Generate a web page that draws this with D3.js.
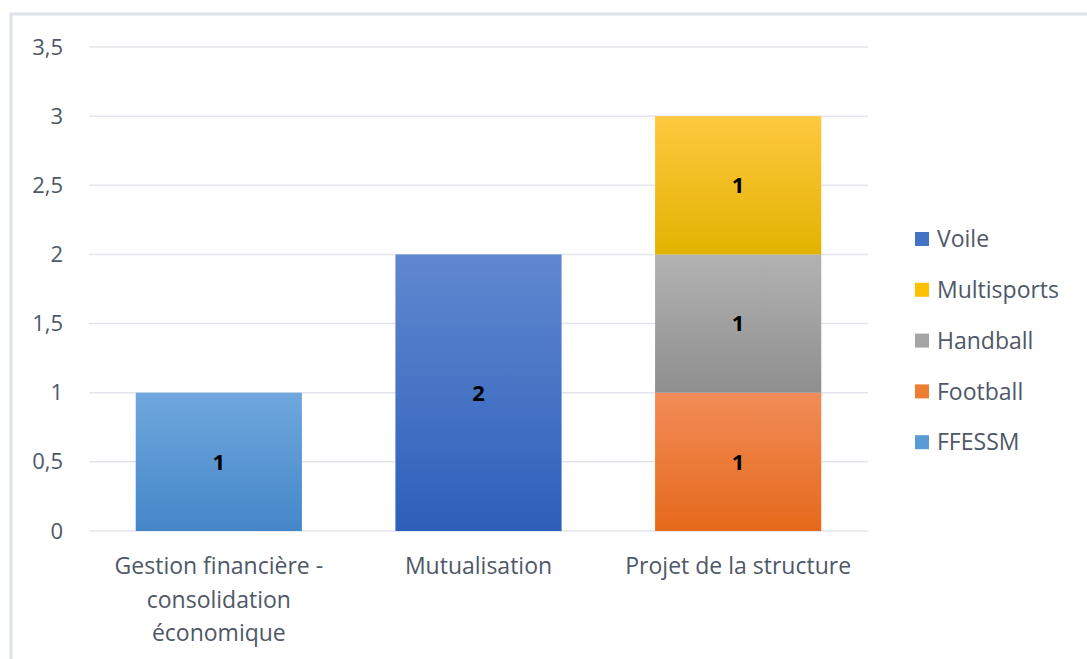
<!DOCTYPE html>
<html lang="fr">
<head>
<meta charset="UTF-8">
<title>Graphique</title>
<style>
  body { margin: 0; background: #fff; }
  svg { display: block; }
  svg text { font-family: "Open Sans", "Noto Sans", sans-serif; }
</style>
<script src="https://cdn.jsdelivr.net/npm/d3@7"></script>
</head>
<body>
<script>
// donnees
var categories = ["Gestion financière - consolidation économique", "Mutualisation", "Projet de la structure"];
var seriesNames = ["FFESSM", "Football", "Handball", "Multisports", "Voile"];
var ffessm = [1, 0, 0];
var football = [0, 0, 1];
var handball = [0, 0, 1];
var multisports = [0, 0, 1];
var voile = [0, 2, 0];
var yTicks = [0, 0.5, 1, 1.5, 2, 2.5, 3, 3.5];

// couleurs (haut / bas du degrade)
var colors = {
  "FFESSM": ["#70a7de", "#4487c8"],
  "Football": ["#f28c58", "#e5691b"],
  "Handball": ["#b2b2b2", "#8f8f8f"],
  "Multisports": ["#ffc840", "#e3b300"],
  "Voile": ["#6088d0", "#2d5fb9"]
};
var legendColors = {
  "FFESSM": "#5b9bd5", "Football": "#ed7d31", "Handball": "#a5a5a5",
  "Multisports": "#ffc000", "Voile": "#4472c4"
};
var textColor = "#4e5868";

var width = 1087, height = 659;
var margin = {top: 47, right: 219, bottom: 128, left: 89};

var table = categories.map(function(c, i) {
  return {cat: c, FFESSM: ffessm[i], Football: football[i], Handball: handball[i],
          Multisports: multisports[i], Voile: voile[i]};
});
var stacked = d3.stack().keys(seriesNames)(table);

var svg = d3.select("body").append("svg")
  .attr("width", width)
  .attr("height", height);

// cadre
svg.append("path")
  .attr("d", "M11," + height + "V14H" + width)
  .attr("fill", "none")
  .attr("stroke", "#dde1e8")
  .attr("stroke-width", 3);

var defs = svg.append("defs");
seriesNames.forEach(function(s) {
  var g = defs.append("linearGradient")
    .attr("id", "grad-" + s)
    .attr("x1", 0).attr("y1", 0).attr("x2", 0).attr("y2", 1);
  g.append("stop").attr("offset", "0%").attr("stop-color", colors[s][0]);
  g.append("stop").attr("offset", "100%").attr("stop-color", colors[s][1]);
});

var x = d3.scaleBand()
  .domain(categories)
  .range([margin.left, width - margin.right])
  .paddingInner(0.36)
  .paddingOuter(0.18);

var y = d3.scaleLinear()
  .domain([0, 3.5])
  .range([height - margin.bottom, margin.top]);

var fmt = function(d) { return String(d).replace(".", ","); };

// grille
svg.append("g")
  .selectAll("line")
  .data(yTicks)
  .enter()
  .append("line")
  .attr("x1", margin.left)
  .attr("x2", width - margin.right)
  .attr("y1", function(d) { return y(d); })
  .attr("y2", function(d) { return y(d); })
  .attr("stroke", "#e2e5eb")
  .attr("stroke-width", 1.5);

// axe y
var yAxis = svg.append("g")
  .attr("transform", "translate(" + (margin.left - 23) + ",0)")
  .call(d3.axisLeft(y).tickValues(yTicks).tickFormat(fmt).tickSize(0))
  .attr("font-family", null)
  .attr("font-size", null);
yAxis.select(".domain").remove();
yAxis.selectAll("text")
  .attr("fill", textColor)
  .attr("font-size", "22px");

// barres
var layers = svg.append("g")
  .selectAll("g")
  .data(stacked)
  .enter()
  .append("g")
  .attr("fill", function(d) { return "url(#grad-" + d.key + ")"; });

layers.selectAll("rect")
  .data(function(d) { return d.filter(function(p) { return p[1] - p[0] > 0; }); })
  .enter()
  .append("rect")
  .attr("x", function(d) { return x(d.data.cat); })
  .attr("y", function(d) { return y(d[1]); })
  .attr("width", x.bandwidth())
  .attr("height", function(d) { return y(d[0]) - y(d[1]); });

// etiquettes de valeurs
layers.selectAll("text")
  .data(function(d) { return d.filter(function(p) { return p[1] - p[0] > 0; }); })
  .enter()
  .append("text")
  .attr("x", function(d) { return x(d.data.cat) + x.bandwidth() / 2; })
  .attr("y", function(d) { return (y(d[0]) + y(d[1])) / 2; })
  .attr("dy", "0.36em")
  .attr("text-anchor", "middle")
  .attr("fill", "#000")
  .attr("font-weight", "bold")
  .attr("font-size", "22px")
  .text(function(d) { return fmt(d[1] - d[0]); });

// axe x
var xLabels = {
  "Gestion financière - consolidation économique": ["Gestion financière -", "consolidation", "économique"],
  "Mutualisation": ["Mutualisation"],
  "Projet de la structure": ["Projet de la structure"]
};
var xAxis = svg.append("g")
  .attr("transform", "translate(0," + (height - margin.bottom) + ")")
  .call(d3.axisBottom(x).tickSize(0).tickFormat(""))
  .attr("font-family", null)
  .attr("font-size", null);
xAxis.select(".domain").remove();
xAxis.selectAll(".tick")
  .append("text")
  .attr("fill", textColor)
  .attr("font-size", "23px")
  .attr("text-anchor", "middle")
  .selectAll("tspan")
  .data(function(d) { return xLabels[d]; })
  .enter()
  .append("tspan")
  .attr("x", 0)
  .attr("y", function(d, i) { return 43 + i * 33.5; })
  .text(function(d) { return d; });

// legende
var legendOrder = seriesNames.slice().reverse();
var legend = svg.append("g")
  .selectAll("g")
  .data(legendOrder)
  .enter()
  .append("g")
  .attr("transform", function(d, i) { return "translate(915," + (239 + i * 50.8) + ")"; });
legend.append("rect")
  .attr("x", 0).attr("y", -7)
  .attr("width", 14).attr("height", 14)
  .attr("fill", function(d) { return legendColors[d]; });
legend.append("text")
  .attr("x", 22)
  .attr("dy", "0.36em")
  .attr("fill", textColor)
  .attr("font-size", "23px")
  .text(function(d) { return d; });
</script>
</body>
</html>
